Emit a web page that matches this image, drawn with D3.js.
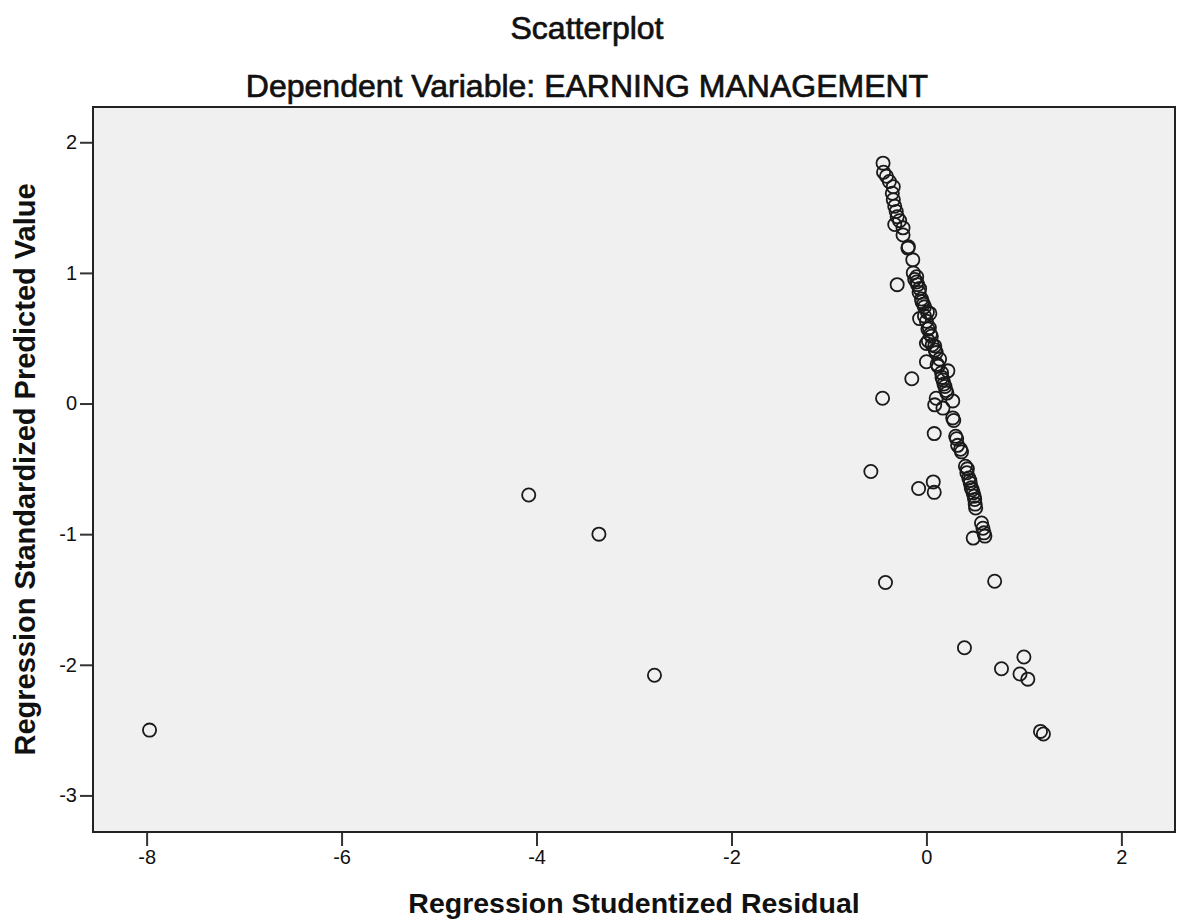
<!DOCTYPE html>
<html><head><meta charset="utf-8">
<script src="https://cdn.jsdelivr.net/npm/d3@7"></script>
<style>
html,body{margin:0;padding:0;background:#fff;}
svg{display:block;font-family:"Liberation Sans",Arial,sans-serif;}
</style></head>
<body><svg id="chart" width="1183" height="924"></svg>
<script>
const titleText = "Scatterplot";
const subtitleText = "Dependent Variable: EARNING MANAGEMENT";
const xLabel = "Regression Studentized Residual";
const yLabel = "Regression Standardized Predicted Value";
const xTicks = [-8, -6, -4, -2, 0, 2];
const yTicks = [2, 1, 0, -1, -2, -3];
const xDomain = [-8.55, 2.55];
const yDomain = [-3.28, 2.27];

// Regression Studentized Residual (x) and Regression Standardized Predicted Value (y)
const residual = [
  -7.97, -4.08, -3.36, -2.79, -0.57, -0.45, -0.15, -0.30, -0.42, -0.08, 0.07, 0.08, 0.08,
  0.48, 0.70, 0.39, 0.77, 1.00, 0.96, 1.04, 1.17, 1.20,
  -0.445, -0.44, -0.41, -0.38, -0.34, -0.35, -0.34, -0.325, -0.31, -0.30, -0.275, -0.325,
  -0.24, -0.24, -0.19, -0.185, -0.14, -0.135, -0.12, -0.10, -0.09, -0.10, -0.075, -0.07,
  -0.05, -0.045, -0.02, -0.03, 0.035, 0.01, -0.07, 0.0, -0.02, 0.015, 0.03, 0.05, 0.04,
  0.0, 0.02, 0.085, 0.06, 0.10, 0.09, 0.0, 0.135, 0.12, 0.11, 0.22, 0.155, 0.17, 0.16,
  0.19, 0.18, 0.21, 0.20, 0.10, 0.27, 0.085, 0.17, 0.27, 0.28, 0.30, 0.31, 0.35, 0.32,
  0.36, 0.40, 0.415, 0.42, 0.435, 0.45, 0.445, 0.46, 0.48, 0.47, 0.495, 0.49, 0.505,
  0.50, 0.565, 0.58, 0.59, 0.60
];
const predicted = [
  -2.50, -0.70, -1.00, -2.08, -0.52, 0.04, 0.19, 0.91, -1.37, -0.65, -0.60, -0.68, -0.23,
  -1.03, -1.36, -1.87, -2.03, -1.94, -2.07, -2.11, -2.51, -2.53,
  1.84, 1.77, 1.74, 1.70, 1.66, 1.61, 1.56, 1.51, 1.47, 1.43, 1.40, 1.37,
  1.345, 1.29, 1.19, 1.20, 1.10, 1.00, 0.95, 0.97, 0.91, 0.93, 0.85, 0.88,
  0.80, 0.78, 0.74, 0.76, 0.69, 0.70, 0.65, 0.63, 0.67, 0.57, 0.58, 0.515, 0.53,
  0.46, 0.48, 0.44, 0.45, 0.39, 0.41, 0.32, 0.34, 0.285, 0.30, 0.25, 0.235, 0.18, 0.20,
  0.13, 0.15, 0.08, 0.10, 0.04, 0.02, -0.01, -0.035, -0.11, -0.13, -0.25, -0.27, -0.35, -0.32,
  -0.37, -0.48, -0.53, -0.50, -0.57, -0.61, -0.59, -0.645, -0.685, -0.66, -0.735, -0.71, -0.80,
  -0.77, -0.915, -0.955, -0.99, -1.015
];
const points = residual.map((r, i) => ({x: r, y: predicted[i]}));

const svg = d3.select("#chart");
const m = {left: 93, right: 1175, top: 107, bottom: 832};
const x = d3.scaleLinear().domain(xDomain).range([m.left, m.right]);
const y = d3.scaleLinear().domain(yDomain).range([m.bottom, m.top]);

svg.append("text").attr("x", 587).attr("y", 39).attr("text-anchor", "middle")
  .attr("font-size", 32).attr("fill", "#111").attr("stroke", "#111").attr("stroke-width", 0.7)
  .text(titleText);
svg.append("text").attr("x", 587).attr("y", 97).attr("text-anchor", "middle")
  .attr("font-size", 32).attr("fill", "#111").attr("stroke", "#111").attr("stroke-width", 0.7)
  .text(subtitleText);

svg.append("rect").attr("x", m.left).attr("y", m.top)
  .attr("width", m.right - m.left).attr("height", m.bottom - m.top)
  .attr("fill", "#f0f0f0");

const xAxis = svg.append("g").attr("transform", `translate(0,${m.bottom})`)
  .call(d3.axisBottom(x).tickValues(xTicks).tickSize(14).tickPadding(4).tickFormat(d3.format("d")));
const yAxis = svg.append("g").attr("transform", `translate(${m.left},0)`)
  .call(d3.axisLeft(y).tickValues(yTicks).tickSize(13).tickPadding(3).tickFormat(d3.format("d")));
[xAxis, yAxis].forEach(g => {
  g.select(".domain").remove();
  g.selectAll(".tick line").attr("stroke", "#333").attr("stroke-width", 2);
  g.selectAll(".tick text").attr("font-size", 20).attr("fill", "#111")
    .attr("font-family", "'Liberation Sans',Arial,sans-serif")
    .text(d => d < 0 ? "-" + Math.abs(d) : d);
});

svg.append("rect").attr("x", m.left).attr("y", m.top)
  .attr("width", m.right - m.left).attr("height", m.bottom - m.top)
  .attr("fill", "none").attr("stroke", "#222").attr("stroke-width", 2);

svg.append("g").selectAll("circle").data(points).join("circle")
  .attr("cx", d => x(d.x)).attr("cy", d => y(d.y)).attr("r", 6.6)
  .attr("fill", "none").attr("stroke", "#1a1a1a").attr("stroke-width", 1.8);

svg.append("text").attr("x", (m.left + m.right) / 2).attr("y", 913).attr("text-anchor", "middle")
  .attr("font-size", 28.5).attr("font-weight", "bold").attr("fill", "#111").text(xLabel);
svg.append("text").attr("transform", `translate(35,${(m.top + m.bottom) / 2}) rotate(-90)`)
  .attr("text-anchor", "middle")
  .attr("font-size", 29).attr("font-weight", "bold").attr("fill", "#111").text(yLabel);
</script></body></html>
